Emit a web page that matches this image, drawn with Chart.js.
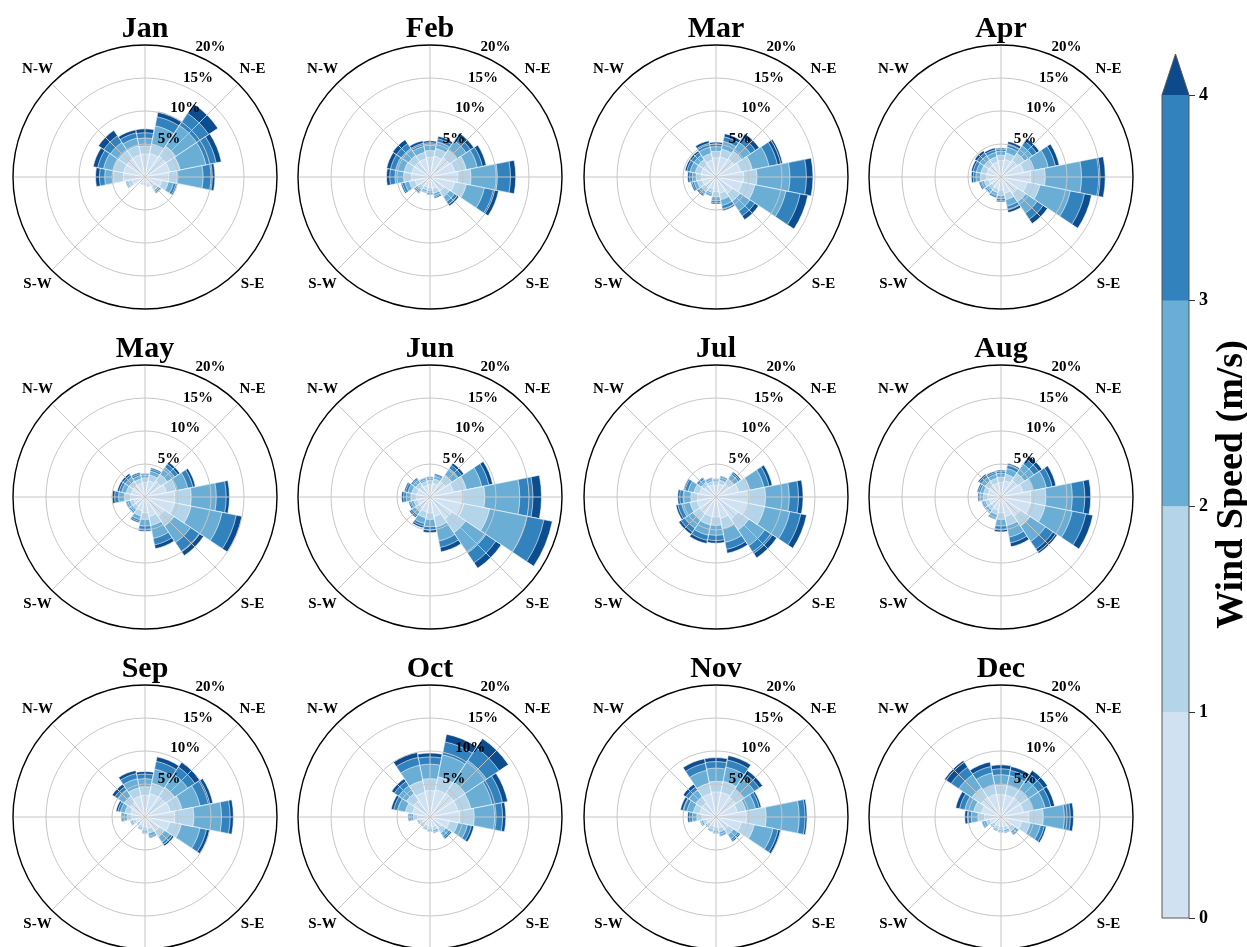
<!DOCTYPE html>
<html>
<head>
<meta charset="utf-8">
<script src="https://cdn.jsdelivr.net/npm/chart.js@4.4.1/dist/chart.umd.min.js"></script>
<style>
  html, body { margin: 0; padding: 0; background: #fff; }
  #page { position: relative; width: 1247px; height: 947px; overflow: hidden; background: #fff; }
  canvas { position: absolute; }
</style>
</head>
<body>
<div id="page"></div>
<script>
// 16 sectors, clockwise from north
const DIRECTIONS = ['N','NNE','NE','ENE','E','ESE','SE','SSE','S','SSW','SW','WSW','W','WNW','NW','NNW'];
const MONTHS = ['Jan','Feb','Mar','Apr','May','Jun','Jul','Aug','Sep','Oct','Nov','Dec'];
const COMPASS_LABELS = ['N-E','S-E','S-W','N-W'];
const RADIAL_TICKS = [5, 10, 15, 20];          // frequency (%)
const SPEED_TICKS = [0, 1, 2, 3, 4];           // wind speed bins (m/s), last bin is >4

// frequency (%) per direction, one row per sector, columns = speed bins 0-1,1-2,2-3,3-4,>4
const jan = [
  [3.5,1.2,1.2,0.8,0.6],[3.6,1.5,2.8,1.4,0.8],[3.8,1.8,3.8,2.2,1.7],[3.8,1.6,4.0,1.6,0.8],
  [3.6,1.3,3.9,1.4,0.4],[2.6,1.0,0.8,0.4,0.2],[1.8,0.6,0.3,0.2,0.1],[1.0,0.3,0.1,0.05,0.05],
  [0.8,0.2,0.1,0.05,0.05],[0.8,0.2,0.1,0.05,0.05],[0.7,0.2,0.05,0.03,0.02],[2.0,0.6,0.2,0.1,0.1],
  [3.3,1.5,1.3,0.8,0.6],[3.3,1.6,1.5,0.9,0.7],[3.3,1.5,1.5,1.2,1.0],[3.4,1.4,1.2,0.8,0.5]
];
const feb = [
  [3.0,1.0,0.8,0.4,0.3],[3.2,1.2,1.0,0.5,0.4],[3.5,1.5,1.6,0.8,0.6],[3.8,1.8,1.7,0.8,0.6],
  [4.2,2.0,4.0,2.0,0.8],[3.8,1.8,2.8,1.4,0.8],[2.6,1.0,0.9,0.5,0.3],[1.8,0.7,0.4,0.2,0.2],
  [1.6,0.5,0.3,0.2,0.1],[1.5,0.5,0.3,0.1,0.1],[1.7,0.6,0.4,0.2,0.1],[2.3,0.9,0.7,0.4,0.2],
  [2.8,1.2,1.3,0.8,0.5],[2.8,1.2,1.3,0.8,0.6],[2.8,1.1,1.3,0.9,0.7],[2.8,1.0,0.9,0.5,0.4]
];
const mar = [
  [2.9,1.0,0.7,0.4,0.3],[3.1,1.2,1.2,0.7,0.5],[3.3,1.4,1.6,0.9,0.7],[3.8,1.8,2.6,1.3,0.8],
  [4.2,2.0,5.0,2.5,1.0],[4.0,2.0,4.8,2.2,1.2],[3.0,1.4,1.8,0.9,0.7],[2.5,1.0,0.9,0.5,0.3],
  [2.2,0.8,0.6,0.3,0.2],[1.8,0.6,0.3,0.2,0.1],[2.0,0.7,0.4,0.2,0.2],[2.1,0.8,0.5,0.3,0.2],
  [2.2,0.8,0.6,0.4,0.3],[2.3,0.9,0.8,0.5,0.3],[2.3,0.9,0.8,0.5,0.3],[2.6,1.0,1.0,0.6,0.4]
];
const apr = [
  [2.5,0.8,0.6,0.3,0.2],[2.7,1.0,0.9,0.5,0.4],[3.0,1.3,1.4,0.8,0.5],[3.5,1.6,2.2,1.1,0.6],
  [4.5,2.2,5.5,2.6,1.0],[4.0,2.0,4.7,2.2,1.1],[3.0,1.5,2.1,1.1,0.8],[2.5,1.0,1.0,0.6,0.4],
  [2.0,0.8,0.5,0.3,0.2],[1.8,0.6,0.4,0.2,0.2],[1.7,0.6,0.4,0.2,0.1],[1.9,0.7,0.4,0.2,0.2],
  [2.2,0.9,0.7,0.4,0.3],[2.2,0.9,0.7,0.5,0.3],[2.2,0.9,0.8,0.5,0.4],[2.3,0.8,0.7,0.4,0.3]
];
const may = [
  [2.2,0.7,0.4,0.2,0.1],[2.5,0.9,0.6,0.3,0.2],[2.9,1.2,1.3,0.6,0.4],[3.3,1.5,1.8,0.8,0.4],
  [4.5,2.5,3.8,1.5,0.5],[4.5,2.6,4.8,2.2,0.9],[3.5,1.8,3.0,1.6,0.8],[3.0,1.4,2.0,1.0,0.6],
  [2.4,1.0,1.0,0.5,0.3],[2.1,0.8,0.6,0.3,0.2],[1.7,0.6,0.4,0.2,0.1],[1.7,0.6,0.4,0.2,0.1],
  [2.2,0.9,0.9,0.6,0.4],[2.1,0.8,0.7,0.4,0.3],[2.1,0.8,0.7,0.4,0.3],[2.1,0.7,0.5,0.3,0.2]
];
const jun = [
  [1.9,0.6,0.3,0.2,0.1],[2.1,0.7,0.4,0.2,0.2],[2.8,1.2,1.2,0.6,0.4],[3.6,2.0,2.4,1.1,0.6],
  [5.0,3.3,5.3,2.0,1.3],[5.2,4.0,5.8,2.6,1.3],[4.0,2.5,3.7,1.8,1.0],[3.0,1.6,2.2,1.0,0.7],
  [2.4,1.0,1.1,0.5,0.4],[2.3,0.9,0.9,0.4,0.3],[2.0,0.7,0.6,0.3,0.2],[1.9,0.6,0.4,0.2,0.2],
  [2.1,0.8,0.7,0.4,0.3],[2.0,0.8,0.6,0.4,0.2],[2.0,0.6,0.5,0.2,0.2],[1.8,0.6,0.3,0.2,0.1]
];
const jul = [
  [1.8,0.5,0.3,0.1,0.1],[2.0,0.6,0.4,0.2,0.1],[2.4,0.9,0.8,0.3,0.2],[3.5,1.7,2.2,0.8,0.5],
  [5.0,2.5,3.6,1.4,0.7],[5.0,2.5,3.9,1.7,0.9],[4.0,2.0,2.9,1.4,0.8],[3.3,1.6,2.1,1.1,0.6],
  [3.0,1.3,1.5,0.8,0.4],[3.0,1.3,1.6,0.8,0.5],[3.0,1.2,1.5,0.7,0.4],[2.9,1.1,1.3,0.6,0.3],
  [2.8,1.0,1.1,0.6,0.3],[2.5,0.9,0.9,0.5,0.2],[2.1,0.6,0.5,0.3,0.1],[1.9,0.5,0.3,0.2,0.1]
];
const aug = [
  [2.2,0.8,0.6,0.3,0.2],[2.5,1.0,0.9,0.5,0.3],[3.0,1.3,1.7,0.9,0.6],[3.4,1.6,2.0,0.9,0.6],
  [4.5,2.3,4.0,1.9,0.9],[4.5,2.3,4.2,2.1,1.1],[3.5,1.8,2.8,1.4,0.8],[3.0,1.4,1.8,0.9,0.6],
  [2.4,1.0,1.0,0.5,0.4],[2.0,0.7,0.5,0.2,0.1],[1.8,0.6,0.4,0.1,0.1],[1.8,0.6,0.3,0.2,0.1],
  [2.0,0.7,0.4,0.2,0.2],[2.0,0.7,0.5,0.3,0.2],[2.1,0.8,0.7,0.4,0.2],[2.1,0.8,0.6,0.3,0.2]
];
const sep = [
  [3.3,1.3,1.2,0.7,0.4],[3.6,1.6,2.2,1.2,0.7],[3.7,1.7,2.4,1.3,0.9],[3.9,1.8,2.8,1.3,0.7],
  [4.5,2.9,4.2,1.3,0.5],[3.8,1.8,2.9,1.0,0.5],[2.6,1.0,1.0,0.4,0.3],[1.8,0.7,0.5,0.2,0.1],
  [1.5,0.5,0.3,0.1,0.1],[1.3,0.4,0.2,0.05,0.05],[1.1,0.3,0.1,0.05,0.05],[1.4,0.5,0.2,0.1,0.1],
  [2.0,0.7,0.5,0.2,0.2],[2.2,0.9,0.7,0.4,0.3],[2.7,1.1,1.1,0.6,0.5],[3.2,1.3,1.4,0.8,0.5]
];
const oct = [
  [4.0,1.8,2.2,1.1,0.6],[4.2,2.0,3.4,2.0,1.2],[4.3,2.1,3.9,2.3,1.7],[4.3,2.0,3.3,1.6,0.8],
  [4.5,2.2,3.1,1.2,0.5],[3.0,1.3,1.5,0.6,0.4],[2.1,0.8,0.6,0.3,0.2],[1.5,0.5,0.3,0.1,0.1],
  [1.4,0.4,0.2,0.1,0.1],[1.3,0.4,0.2,0.05,0.05],[1.2,0.3,0.2,0.05,0.05],[1.3,0.4,0.2,0.05,0.05],
  [1.9,0.6,0.4,0.2,0.2],[2.7,1.1,1.2,0.6,0.4],[3.0,1.3,1.4,0.8,0.5],[3.8,1.8,2.4,1.2,0.8]
];
const nov = [
  [3.8,1.6,2.0,1.0,0.6],[3.8,1.7,2.2,1.1,0.7],[3.6,1.5,1.9,0.9,0.6],[3.3,1.3,1.5,0.6,0.3],
  [4.6,3.0,5.0,0.9,0.3],[3.9,2.0,2.9,0.8,0.4],[2.3,0.9,0.8,0.3,0.2],[1.7,0.6,0.4,0.2,0.1],
  [1.5,0.5,0.3,0.1,0.1],[1.4,0.5,0.2,0.1,0.1],[1.3,0.4,0.2,0.05,0.05],[1.5,0.5,0.3,0.1,0.1],
  [2.1,0.8,0.7,0.4,0.3],[2.5,1.0,1.0,0.6,0.4],[2.6,1.1,1.2,0.6,0.5],[3.6,1.6,2.0,1.1,0.7]
];
const dec = [
  [3.4,1.4,1.6,0.9,0.6],[3.4,1.4,1.6,0.8,0.6],[3.5,1.5,1.8,1.0,0.7],[3.5,1.5,1.8,0.9,0.6],
  [4.2,2.2,3.2,0.9,0.5],[3.2,1.3,1.6,0.6,0.3],[1.9,0.7,0.4,0.2,0.1],[1.5,0.5,0.3,0.1,0.1],
  [1.4,0.5,0.2,0.1,0.1],[1.4,0.4,0.2,0.1,0.1],[1.3,0.4,0.2,0.05,0.05],[1.7,0.6,0.4,0.2,0.1],
  [2.5,1.0,1.0,0.6,0.4],[3.0,1.2,1.4,0.8,0.6],[3.6,1.7,2.4,1.4,1.2],[3.5,1.5,1.8,1.0,0.7]
];
const MONTH_DATA = [jan, feb, mar, apr, may, jun, jul, aug, sep, oct, nov, dec];

const BIN_COLORS = ['#d0e1f2', '#b4d4e9', '#6aaed6', '#3282be', '#0c4d8f'];
const FONT = '"Liberation Serif", "Times New Roman", serif';
const COL_X = [145, 430, 716, 1001];
const ROW_Y = [177, 497, 817];
const CELL_W = 285, CELL_H = 330, RADIUS = 132;

const page = document.getElementById('page');

function makeCanvas(left, top, w, h) {
  const c = document.createElement('canvas');
  c.width = w; c.height = h;
  c.style.left = left + 'px'; c.style.top = top + 'px';
  c.style.width = w + 'px'; c.style.height = h + 'px';
  page.appendChild(c);
  return c;
}

// grid spokes, % labels, compass labels and month title
const roseDecor = {
  id: 'roseDecor',
  afterDraw(chart, args, opts) {
    const r = chart.scales.r;
    const ctx = chart.ctx;
    const cx = r.xCenter, cy = r.yCenter, R = r.drawingArea;
    ctx.save();
    ctx.strokeStyle = '#c6c6c6';
    ctx.lineWidth = 1;
    for (let a = 0; a < 360; a += 45) {
      const t = a * Math.PI / 180;
      ctx.beginPath();
      ctx.moveTo(cx, cy);
      ctx.lineTo(cx + (R - 1) * Math.sin(t), cy - (R - 1) * Math.cos(t));
      ctx.stroke();
    }
    ctx.fillStyle = '#000';
    ctx.font = 'bold 15px ' + FONT;
    ctx.textAlign = 'left';
    ctx.textBaseline = 'bottom';
    const t = 22.5 * Math.PI / 180;
    RADIAL_TICKS.forEach(v => {
      const d = r.getDistanceFromCenterForValue(v);
      ctx.fillText(v + '%', cx + d * Math.sin(t), cy - d * Math.cos(t));
    });
    ctx.textAlign = 'center';
    ctx.textBaseline = 'middle';
    COMPASS_LABELS.forEach((lab, i) => {
      const a = (45 + 90 * i) * Math.PI / 180;
      ctx.fillText(lab, cx + (R + 20) * Math.sin(a), cy - (R + 20) * Math.cos(a));
    });
    ctx.font = 'bold 30px ' + FONT;
    ctx.textBaseline = 'alphabetic';
    ctx.fillText(opts.title, cx, cy - R - 8);
    ctx.restore();
  }
};

MONTHS.forEach((name, m) => {
  const cx = COL_X[m % 4], cy = ROW_Y[Math.floor(m / 4)];
  const left = cx - 142, top = cy - 175;
  const canvas = makeCanvas(left, top, CELL_W, CELL_H);
  const rows = MONTH_DATA[m];

  // stacked bins: dataset k holds the running total up to bin k, smallest drawn on top
  const datasets = BIN_COLORS.map((color, k) => ({
    label: k < 4 ? SPEED_TICKS[k] + '-' + SPEED_TICKS[k + 1] : '>' + SPEED_TICKS[4],
    data: rows.map(row => row.slice(0, k + 1).reduce((s, v) => s + v, 0)),
    backgroundColor: color,
    borderColor: '#fff',
    borderWidth: 0.6
  }));

  new Chart(canvas, {
    type: 'polarArea',
    data: { labels: DIRECTIONS, datasets: datasets },
    options: {
      responsive: false,
      animation: false,
      layout: { padding: { left: 10, right: CELL_W - 10 - 2 * RADIUS, top: 43, bottom: CELL_H - 43 - 2 * RADIUS } },
      plugins: {
        legend: { display: false },
        tooltip: { enabled: false },
        roseDecor: { title: name }
      },
      scales: {
        r: {
          min: 0,
          max: 20,
          startAngle: -11.25,
          ticks: { display: false, stepSize: 5 },
          angleLines: { display: false },
          pointLabels: { display: false },
          grid: {
            circular: true,
            z: 1,
            color: c => (c.tick && c.tick.value === 20) ? '#000' : '#c6c6c6',
            lineWidth: c => (c.tick && c.tick.value === 20) ? 1.4 : 1
          }
        }
      }
    },
    plugins: [roseDecor]
  });
});

// colour bar
const OVER_COLOR = '#0d4a8c';
const cbDecor = {
  id: 'cbDecor',
  afterDatasetsDraw(chart) {
    const { ctx, chartArea: a, scales: { y } } = chart;
    const top = y.getPixelForValue(SPEED_TICKS[4]);
    const bottom = y.getPixelForValue(SPEED_TICKS[0]);
    const mid = (a.left + a.right) / 2;
    ctx.save();
    ctx.beginPath();
    ctx.moveTo(a.left, top);
    ctx.lineTo(mid, top - 41);
    ctx.lineTo(a.right, top);
    ctx.closePath();
    ctx.fillStyle = OVER_COLOR;
    ctx.fill();
    ctx.beginPath();
    ctx.moveTo(a.left, bottom);
    ctx.lineTo(a.left, top);
    ctx.lineTo(mid, top - 41);
    ctx.lineTo(a.right, top);
    ctx.lineTo(a.right, bottom);
    ctx.closePath();
    ctx.strokeStyle = '#555';
    ctx.lineWidth = 1;
    ctx.stroke();
    ctx.translate(a.right + 53, (top + bottom) / 2 - 22);
    ctx.rotate(-Math.PI / 2);
    ctx.fillStyle = '#000';
    ctx.font = 'bold 38px ' + FONT;
    ctx.textAlign = 'center';
    ctx.textBaseline = 'alphabetic';
    ctx.fillText('Wind Speed (m/s)', 0, 0);
    ctx.restore();
  }
};

const cb = makeCanvas(1140, 40, 107, 907);
new Chart(cb, {
  type: 'bar',
  data: {
    labels: [''],
    datasets: SPEED_TICKS.slice(0, -1).map((v, i) => ({
      data: [[v, SPEED_TICKS[i + 1]]],
      backgroundColor: BIN_COLORS[i],
      borderWidth: 0,
      barPercentage: 1,
      categoryPercentage: 1,
      grouped: false
    }))
  },
  options: {
    responsive: false,
    animation: false,
    layout: { padding: { left: 22, right: 0, top: 55, bottom: 29 } },
    plugins: { legend: { display: false }, tooltip: { enabled: false } },
    scales: {
      x: { display: false },
      y: {
        position: 'right',
        min: 0,
        max: 4,
        afterFit: s => { s.width = 58; },
        ticks: { stepSize: 1, color: '#000', padding: 4, font: { family: FONT, weight: 'bold', size: 18 } },
        grid: { drawOnChartArea: false, drawTicks: true, tickLength: 6, color: '#333' },
        border: { display: false }
      }
    }
  },
  plugins: [cbDecor]
});
</script>
</body>
</html>
